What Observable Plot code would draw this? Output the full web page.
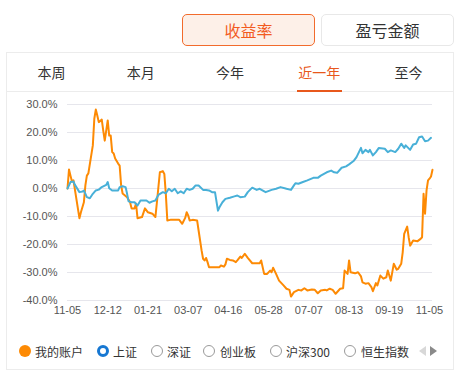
<!DOCTYPE html>
<html>
<head>
<meta charset="utf-8">
<script src="https://cdn.jsdelivr.net/npm/d3@7"></script>
<script src="https://cdn.jsdelivr.net/npm/@observablehq/plot@0.6"></script>
<style>
  html, body { margin: 0; padding: 0; background: #fff; }
  body { width: 458px; height: 378px; position: relative; overflow: hidden;
         font-family: "Liberation Sans", Arial, "Noto Sans CJK SC", sans-serif; color: #333; }
  .btn { position: absolute; top: 14px; width: 131px; height: 30px; border-radius: 5px;
         font-size: 16px; line-height: 30px; text-align: center; font-family: "Noto Sans CJK SC", sans-serif; }
  .btn.on { left: 182px; border: 1px solid #f26b2c; background: #fdf0e8; color: #f25b1f; }
  .btn.off { left: 321px; border: 1px solid #e8e8e8; background: #fff; color: #333; }
  .card { position: absolute; left: 6px; top: 52px; width: 446px; height: 316px; border: 1px solid #ececec; }
  .tabs { position: absolute; left: 0; top: 0; width: 446px; height: 38px; display: flex;
          border-bottom: 1px solid #ececec; }
  .tab { flex: 1; text-align: center; font-size: 14px; line-height: 38px; position: relative;
         font-family: "Noto Sans CJK SC", sans-serif; color: #333; }
  .tab.on { color: #e8581c; }
  .tab.on::after { content: ""; position: absolute; left: 50%; margin-left: -22.5px; width: 45px; height: 2px;
                   bottom: -1px; background: #e8581c; }
  #chart { position: absolute; left: 0; top: 92px; }
  .legend { position: absolute; top: 343px; left: 0; width: 458px; height: 16px; font-size: 12px;
            font-family: "Noto Sans CJK SC", sans-serif; color: #333; }
  .item { position: absolute; top: 0; height: 16px; line-height: 16px; white-space: nowrap; }
  .dot { position: absolute; top: 2px; width: 12px; height: 12px; border-radius: 50%; box-sizing: border-box; }
  .lbl { position: absolute; top: 0; }
  .arrow { position: absolute; top: 3px; width: 0; height: 0; border-top: 5px solid transparent; border-bottom: 5px solid transparent; }
</style>
</head>
<body>
<div class="btn on">收益率</div>
<div class="btn off">盈亏金额</div>
<div class="card">
  <div class="tabs" id="tabs"></div>
</div>
<div id="chart"></div>
<div class="legend" id="legend"></div>
<script>
// ---- data (trading-day index, return %) ----
const periodTabs = ["本周", "本月", "今年", "近一年", "至今"];
const activeTab = "近一年";
const tickDays = [0, 27, 54, 81, 108, 135, 162, 189, 216, 243];
const tickLabels = ["11-05", "12-12", "01-21", "03-07", "04-16", "05-28", "07-07", "08-13", "09-19", "11-05"];
const yTicks = [30, 20, 10, 0, -10, -20, -30, -40];
const seriesNames = ["我的账户", "上证", "深证", "创业板", "沪深300", "恒生指数"];

const accountSeries = [[0,0],[1,6.8],[2,4.6],[3,2.5],[4,2.9],[8,-10.6],[9,-8.5],[11,-4.9],[12,1.1],[13,4.6],[14,5.4],[17,15.4],[18,24.9],[19,28.2],[20,26.1],[21,23.7],[23,24.6],[24,20.7],[25,17.1],[27,24.3],[28,18.9],[29,18.9],[30,13.0],[31,12.5],[32,10.7],[34,8.9],[35,8.2],[36,1.1],[37,-1.8],[40,-3.1],[42,-4.9],[43,-7.1],[45,-7.1],[46,-5.4],[47,-10.6],[50,-10.2],[52,-7.1],[54,-8.5],[57,-9.0],[59,-10.2],[60,-5.0],[62,5.8],[64,6.2],[65,5.2],[66,-1.9],[67,-11.4],[69,-11.2],[73,-11.2],[75,-11.2],[77,-12.6],[79,-10.5],[80,-8.5],[81,-9.6],[82,-11.4],[84,-11.2],[87,-11.4],[88,-15.0],[90,-22.1],[91,-25.1],[92,-25.7],[93,-24.8],[94,-26.3],[95,-28.1],[98,-28.1],[102,-28.1],[103,-27.5],[105,-27.9],[106,-27.1],[107,-25.1],[109,-25.5],[111,-25.7],[113,-26.3],[114,-25.7],[116,-24.3],[117,-24.8],[119,-23.3],[121,-24.8],[124,-26.7],[129,-26.7],[130,-25.7],[132,-30.5],[134,-30.5],[136,-29.3],[137,-29.9],[138,-28.3],[140,-30.5],[142,-32.9],[145,-34.6],[147,-35.8],[149,-36.2],[150,-38.6],[152,-37.0],[155,-36.2],[157,-36.4],[159,-35.6],[161,-36.4],[164,-36.1],[166,-36.2],[168,-37.4],[170,-36.4],[173,-36.2],[174,-36.4],[176,-35.8],[178,-36.2],[180,-37.6],[183,-35.8],[185,-35.6],[186,-29.3],[188,-30.5],[189,-25.7],[190,-29.9],[193,-30.3],[195,-29.9],[197,-31.4],[198,-33.5],[200,-34.0],[202,-33.8],[204,-35.2],[205,-36.7],[207,-33.8],[208,-34.6],[210,-31.1],[212,-32.2],[214,-31.7],[215,-29.3],[216,-31.1],[217,-32.9],[219,-26.9],[221,-29.0],[222,-28.7],[224,-26.9],[225,-22.8],[226,-16.2],[228,-13.6],[229,-17.4],[230,-20.4],[232,-18.6],[235,-18.8],[237,-18.0],[238,-17.4],[239,-1.9],[240,-9.0],[241,-0.7],[242,2.9],[243,3.5],[244,4.3],[245,6.7]];

const shanghaiSeries = [[0,0],[2,2.3],[4,2.5],[5,1.3],[8,-1.3],[10,-1.1],[11,-0.7],[13,-3.1],[15,-3.5],[17,-1.9],[19,-0.7],[21,-0.4],[23,0.5],[26,1.3],[27,2.3],[28,0.1],[30,-0.7],[32,-0.7],[34,-0.7],[35,0.5],[37,0.8],[39,0.5],[40,-1.9],[41,-4.6],[43,-4.9],[45,-4.9],[47,-6.1],[49,-4.3],[51,-4.3],[53,-4.3],[55,-5.1],[57,-4.6],[59,-4.3],[61,-2.3],[64,-1.3],[66,-1.7],[68,-0.1],[70,-1.0],[72,-0.1],[74,-1.7],[76,-1.0],[78,-1.7],[80,-0.1],[82,-0.5],[84,-0.1],[86,1.1],[88,1.1],[91,-0.5],[93,-0.5],[95,-0.7],[97,-1.3],[99,-1.3],[101,-7.9],[102,-6.7],[104,-4.9],[106,-3.7],[109,-3.3],[112,-2.8],[114,-2.5],[116,-3.1],[119,-2.9],[121,-1.3],[124,0.3],[127,-0.5],[129,-0.1],[133,-1.3],[137,-0.5],[140,-0.1],[143,0.5],[147,-0.1],[150,-0.5],[152,1.1],[153,1.9],[155,1.7],[158,2.3],[161,2.9],[165,3.8],[168,3.8],[170,4.6],[174,5.8],[177,6.4],[179,5.8],[181,5.6],[184,7.4],[187,7.9],[189,8.6],[192,9.8],[194,11.2],[197,14.5],[198,12.6],[200,13.8],[202,13.0],[203,13.8],[205,11.8],[207,13.0],[209,14.5],[213,14.2],[215,13.0],[217,13.6],[220,13.0],[222,14.2],[224,16.0],[226,14.5],[227,15.4],[230,13.8],[232,15.7],[234,16.0],[236,18.3],[238,18.6],[240,16.9],[242,17.1],[244,18.1]];

// ---- tabs ----
const tabs = document.getElementById("tabs");
periodTabs.forEach(t => {
  const d = document.createElement("div");
  d.className = "tab" + (t === activeTab ? " on" : "");
  d.textContent = t;
  tabs.appendChild(d);
});

// ---- chart ----
const chart = Plot.plot({
  width: 458,
  height: 235,
  marginLeft: 67,
  marginRight: 26,
  marginTop: 12,
  marginBottom: 27,
  style: { fontFamily: "'Liberation Sans', Arial, sans-serif", fontSize: "11px", color: "#555", background: "transparent", overflow: "visible" },
  x: { domain: [0, 245], ticks: tickDays, tickFormat: d => tickLabels[tickDays.indexOf(d)], tickSize: 0, tickPadding: 6, label: null },
  y: { domain: [-40, 30], ticks: yTicks, tickFormat: d => d.toFixed(1) + "%", tickSize: 0, tickPadding: 10, label: null },
  marks: [
    Plot.ruleY(yTicks, { stroke: "#e6e6ec", strokeWidth: 1 }),
    Plot.line(accountSeries, { x: d => d[0], y: d => d[1], stroke: "#fd8a04", strokeWidth: 2, strokeLinejoin: "round" }),
    Plot.line(shanghaiSeries, { x: d => d[0], y: d => d[1], stroke: "#48b0d8", strokeWidth: 2, strokeLinejoin: "round" })
  ]
});
document.getElementById("chart").appendChild(chart);

// ---- legend ----
const legend = document.getElementById("legend");
const itemX = [19, 97, 151, 203, 270, 344];
const textX = [35, 113, 167, 220, 286, 361];
seriesNames.forEach((name, i) => {
  const dot = document.createElement("div");
  dot.className = "dot";
  dot.style.left = itemX[i] + "px";
  if (i === 0) { dot.style.background = "#fd8a04"; }
  else if (i === 1) { dot.style.border = "3px solid #1677d2"; dot.style.background = "#fff"; }
  else { dot.style.border = "1px solid #9a9a9a"; dot.style.background = "#fff"; }
  legend.appendChild(dot);
  const lbl = document.createElement("div");
  lbl.className = "lbl";
  lbl.style.left = textX[i] + "px";
  lbl.textContent = name;
  legend.appendChild(lbl);
});
const la = document.createElement("div");
la.className = "arrow"; la.style.left = "419px"; la.style.borderRight = "7px solid #d8d8d8";
legend.appendChild(la);
const ra = document.createElement("div");
ra.className = "arrow"; ra.style.left = "430px"; ra.style.borderLeft = "7px solid #8a8a8a";
legend.appendChild(ra);
</script>
</body>
</html>
